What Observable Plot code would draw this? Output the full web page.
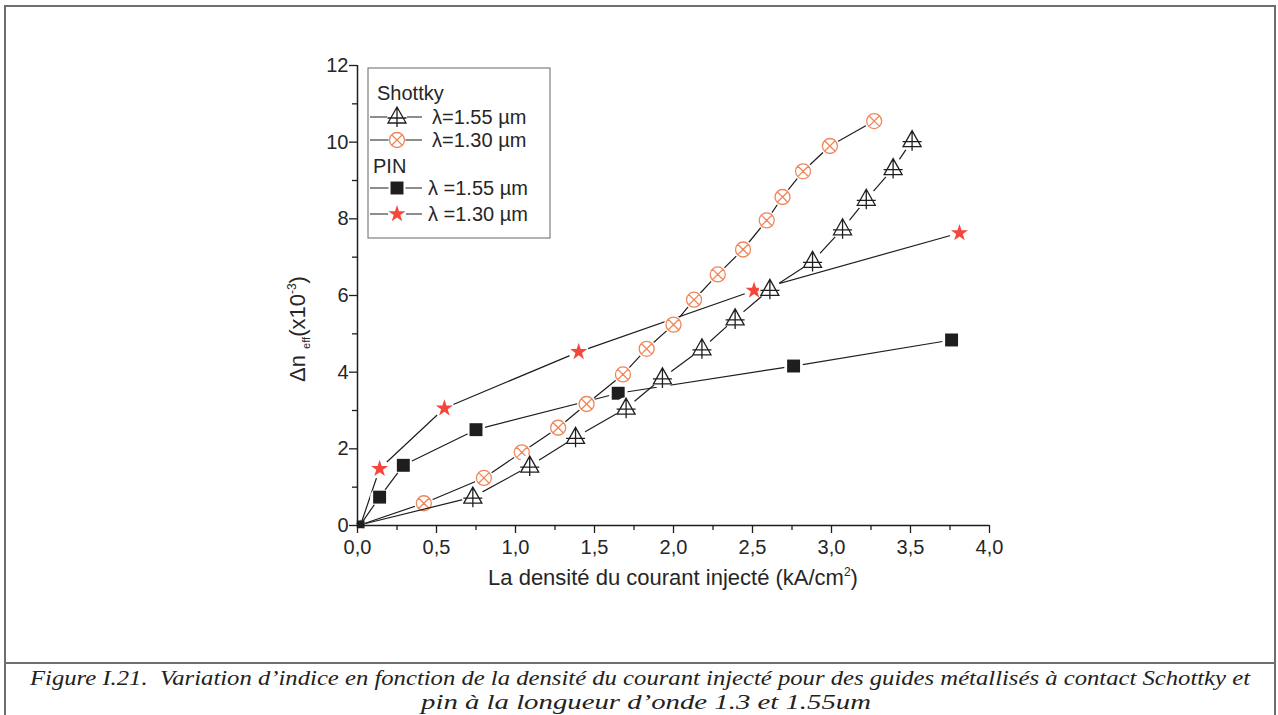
<!DOCTYPE html>
<html><head><meta charset="utf-8">
<script src="https://cdn.jsdelivr.net/npm/d3@7"></script>
<script src="https://cdn.jsdelivr.net/npm/@observablehq/plot@0.6"></script>
<style>
body{margin:0;background:#fff;}
#frame{position:absolute;left:4px;top:5px;width:1268px;height:720px;border:2px solid #6e6e6e;border-bottom:none;background:#fff;}
#chart svg{display:block;}
#caption{border-top:2px solid #6e6e6e;}
#caption svg{display:block;}
</style></head><body>
<div id="frame"><div id="chart"></div><div id="caption"></div></div>
<script>
// ---- data (x: kA/cm², y: Δn_eff ×10^-3) ----
const shottky155 = [[0.02,0.02],[0.73,0.74],[1.09,1.55],[1.38,2.30],[1.70,3.06],[1.93,3.85],[2.18,4.61],[2.39,5.39],[2.61,6.16],[2.88,6.89],[3.07,7.74],[3.22,8.51],[3.39,9.31],[3.51,10.04]];
const shottky130 = [[0.02,0.02],[0.42,0.58],[0.80,1.24],[1.04,1.91],[1.27,2.55],[1.45,3.17],[1.68,3.94],[1.83,4.61],[2.00,5.24],[2.13,5.89],[2.28,6.55],[2.44,7.20],[2.59,7.96],[2.69,8.57],[2.82,9.24],[2.99,9.90],[3.27,10.55]];
const pin155 = [[0.02,0.03],[0.14,0.74],[0.29,1.57],[0.75,2.50],[1.65,3.45],[2.76,4.16],[3.76,4.84]];
const pin130 = [[0.02,0.02],[0.14,1.48],[0.55,3.06],[1.40,4.53],[2.51,6.13],[3.81,7.63]];
const xMajor = [0,0.5,1,1.5,2,2.5,3,3.5,4];
const xMinor = [0.25,0.75,1.25,1.75,2.25,2.75,3.25,3.75];
const yMajor = [0,2,4,6,8,10,12];
const yMinor = [1,3,5,7,9,11];
const legendGroups = ["Shottky","PIN"];
const legendLabels = ["\u03bb=1.55 \u00b5m","\u03bb=1.30 \u00b5m","\u03bb =1.55 \u00b5m","\u03bb =1.30 \u00b5m"];
const xTitle = "La densit\u00e9 du courant inject\u00e9 (kA/cm";
const caption1 = "Figure I.21.\u00a0\u00a0Variation d\u2019indice en fonction de la densit\u00e9 du courant inject\u00e9 pour des guides m\u00e9tallis\u00e9s \u00e0 contact Schottky et";
const caption2 = "pin \u00e0 la longueur d\u2019onde 1.3 et 1.55um";

const ORANGE = "#f0875a", RED = "#f4463a", INK = "#1e1e1e", TXT = "#262626";
const SANS = "'Liberation Sans', Arial, sans-serif";
const SERIF = "'Liberation Serif', 'Times New Roman', Times, serif";

// custom symbols
const circleX = {draw(ctx, size){ const r = Math.sqrt(size/Math.PI); ctx.moveTo(r,0); ctx.arc(0,0,r,0,2*Math.PI); const d=r*0.7071; ctx.moveTo(-d,-d); ctx.lineTo(d,d); ctx.moveTo(d,-d); ctx.lineTo(-d,d);} };
const triCross = {draw(ctx, size){ const r = Math.sqrt(size/Math.PI); const s=r/10;
  ctx.moveTo(0,-10*s); ctx.lineTo(9*s,6*s); ctx.lineTo(-9*s,6*s); ctx.closePath();
  ctx.moveTo(-9.5*s,1*s); ctx.lineTo(9.5*s,1*s);
  ctx.moveTo(0,-10*s); ctx.lineTo(0,10*s);} };

const series = [
  {data: pin130, symbol: "star", r: 5.4, fill: RED, stroke: "none", halo: 10, origin: true},
  {data: pin155, symbol: "square", r: 7.3, fill: INK, stroke: "none", halo: 9.5, origin: true},
  {data: shottky130, symbol: circleX, r: 7.5, fill: "white", stroke: ORANGE, halo: 9.5, origin: false},
  {data: shottky155, symbol: triCross, r: 10, fill: "white", stroke: INK, halo: 11, origin: false}
];

const marks = [];
for (const s of series) {
  const rows = s.data.map(([x,y]) => ({x,y}));
  marks.push(Plot.line(rows, {x:"x", y:"y", stroke: INK, strokeWidth: 1.2}));
  marks.push(Plot.dot(rows.slice(1), {x:"x", y:"y", r: s.halo, fill: "white", stroke: "none"}));
  marks.push(Plot.dot(rows.slice(1), {x:"x", y:"y", r: s.r, symbol: s.symbol, fill: s.fill, stroke: s.stroke, strokeWidth: 1.3}));
}
// origin markers (drawn small, as in the reference)
const originMarks = series.filter(s => s.origin).map(s => {
  const rows = s.data.slice(0,1).map(([x,y]) => ({x,y}));
  return Plot.dot(rows, {x:"x", y:"y", r: s.r*0.6, symbol: s.symbol, fill: s.fill, stroke: "none"});
});

const fmt = d => d.toFixed(1).replace(".", ",");
const axisText = {fontSize: 20, fontFamily: SANS, fill: TXT};
const chart = Plot.plot({
  width: 1268, height: 655,
  marginLeft: 351, marginRight: 285, marginTop: 58, marginBottom: 137,
  style: {fontFamily: SANS, fontSize: "20px", color: TXT, background: "white"},
  x: {domain: [0,4], label: null},
  y: {domain: [0,12], label: null},
  marks: [
    Plot.axisX({ticks: xMajor, tickSize: 8, tickPadding: 6, tickFormat: fmt, stroke: INK, strokeWidth: 1.3, ...axisText}),
    Plot.axisX({ticks: xMinor, tickSize: 5, tickFormat: () => "", stroke: INK, strokeWidth: 1.3}),
    Plot.axisY({ticks: yMajor, tickSize: 8, tickPadding: 1, tickFormat: d => String(d), stroke: INK, strokeWidth: 1.3, ...axisText}),
    Plot.axisY({ticks: yMinor, tickSize: 5, tickFormat: () => "", stroke: INK, strokeWidth: 1.3}),
    ...marks,
    ...originMarks,
    Plot.ruleY([0], {stroke: INK, strokeWidth: 1.5}),
    Plot.ruleX([0], {stroke: INK, strokeWidth: 1.5})
  ]
});
document.getElementById("chart").appendChild(chart);

const svg = d3.select(chart);
// axis titles
const xt = svg.append("text").attr("x", 667).attr("y", 578).attr("text-anchor","middle")
  .attr("fill",TXT).style("font-family",SANS).style("font-size","22px");
xt.append("tspan").text(xTitle);
xt.append("tspan").attr("dy",-9).style("font-size","12px").text("2");
xt.append("tspan").attr("dy",9).text(")");

const yt = svg.append("text").attr("transform","translate(299,322) rotate(-90)").attr("text-anchor","middle")
  .attr("fill",TXT).style("font-family",SANS).style("font-size","22px");
yt.append("tspan").text("\u0394n ");
yt.append("tspan").attr("dy",5).style("font-size","11px").text("eff");
yt.append("tspan").attr("dy",-5).text("(x10");
yt.append("tspan").attr("dy",-9).style("font-size","12px").text("-3");
yt.append("tspan").attr("dy",9).text(")");

// legend
const lg = svg.append("g").attr("text-anchor","start").style("font-family",SANS).style("font-size","20px");
lg.append("rect").attr("x",362).attr("y",61).attr("width",182).attr("height",170)
  .attr("fill","white").attr("stroke","#666").attr("stroke-width",1);
const gy = [86, 159];
legendGroups.forEach((t,i) => {
  lg.append("text").attr("x", i===0 ? 371 : 367).attr("y", gy[i]).attr("dy","0.35em")
    .attr("text-anchor","start").attr("fill",TXT).text(t);
});
const rowY = [110, 133, 181, 207];
const rowSeries = [series[3], series[2], series[1], series[0]];
rowSeries.forEach((s,i) => {
  const y = rowY[i];
  lg.append("line").attr("x1",364).attr("x2",416).attr("y1",y).attr("y2",y).attr("stroke",INK).attr("stroke-width",1.2);
  lg.append("circle").attr("cx",391).attr("cy",y).attr("r",s.halo-1).attr("fill","white");
  const type = typeof s.symbol === "string" ? (s.symbol === "star" ? d3.symbolStar : d3.symbolSquare) : s.symbol;
  lg.append("path").attr("transform",`translate(391,${y})`)
    .attr("d", d3.symbol(type, Math.PI*s.r*s.r)())
    .attr("fill", s.fill).attr("stroke", s.stroke).attr("stroke-width",1.3);
  lg.append("text").attr("x", i<2 ? 426 : 422).attr("y", y).attr("dy","0.35em")
    .attr("text-anchor","start").attr("fill",TXT).text(legendLabels[i]);
});

// caption
const cap = d3.select("#caption").append("svg").attr("width",1268).attr("height",60);
cap.append("text").attr("x",634).attr("y",21).attr("text-anchor","middle")
  .attr("textLength",1220).attr("lengthAdjust","spacingAndGlyphs")
  .style("font-family",SERIF).style("font-style","italic")
  .style("font-size","22px").attr("fill","#222").text(caption1);
cap.append("text").attr("x",640).attr("y",45).attr("text-anchor","middle")
  .attr("textLength",450).attr("lengthAdjust","spacingAndGlyphs")
  .style("font-family",SERIF).style("font-style","italic")
  .style("font-size","22px").attr("fill","#222").text(caption2);
</script></body></html>
